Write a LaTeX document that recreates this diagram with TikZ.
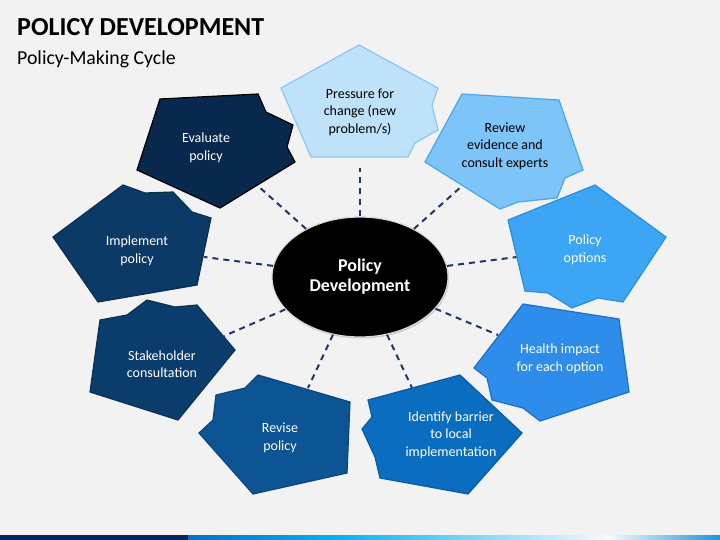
\documentclass[tikz,border=0pt]{standalone}
\usepackage{fontspec}
\setmainfont{Carlito}
\usetikzlibrary{shapes.geometric, shadows, positioning}

\definecolor{bgc}{HTML}{F2F2F2}
\definecolor{navy}{HTML}{1F3864}
\definecolor{barDark}{HTML}{0B2263}
\definecolor{barA}{HTML}{0A6EC2}
\definecolor{barB}{HTML}{00B0F0}
\definecolor{barC}{HTML}{F5FAFE}
\definecolor{barD}{HTML}{1E93DA}
\definecolor{fillA}{HTML}{BEE2FA}\definecolor{lineA}{HTML}{8AC8F2}
\definecolor{fillB}{HTML}{7DC4F8}\definecolor{lineB}{HTML}{49A6EB}
\definecolor{fillC}{HTML}{3CA6F5}\definecolor{lineC}{HTML}{2A8EE0}
\definecolor{fillD}{HTML}{2E8CEB}\definecolor{lineD}{HTML}{1A70C8}
\definecolor{fillE}{HTML}{0B6DBF}\definecolor{lineE}{HTML}{075BA5}
\definecolor{fillF}{HTML}{0C5494}\definecolor{lineF}{HTML}{0A477F}
\definecolor{fillG}{HTML}{0A3D6C}\definecolor{lineG}{HTML}{083258}
\definecolor{fillH}{HTML}{0B3A66}\definecolor{lineH}{HTML}{08304F}
\definecolor{fillI}{HTML}{08284E}\definecolor{lineI}{HTML}{000000}

\pgfdeclarehorizontalshading{barshade}{100bp}{color(0bp)=(barA); color(25bp)=(barA);
  color(38.5bp)=(barB); color(64.5bp)=(barC); color(75bp)=(barD); color(100bp)=(barD)}

\begin{document}
\begin{tikzpicture}[x=1pt, y=-1pt,
    stage/.style={line width=1.2pt, line join=miter},
    lbl/.style={align=center, inner sep=0pt, font=\fontsize{14}{17.5}\selectfont, text=white},
    hub/.style={ellipse, fill=black, draw=white!85!black, line width=1.2pt,
                minimum width=176pt, minimum height=120pt, align=center, text=white,
                font=\fontsize{18}{20}\selectfont\bfseries,
                drop shadow={opacity=0.35, shadow xshift=1pt, shadow yshift=-1.5pt}},
    link/.style={draw=navy, line width=2pt, dash pattern=on 6pt off 5pt}
]
    \fill[bgc] (0,0) rectangle (720,540);
    \useasboundingbox (0,0) rectangle (720,540);

    \node[anchor=base west, inner sep=0pt, font=\fontsize{26}{30}\selectfont\bfseries] (title) at (17,36) {POLICY DEVELOPMENT};
    \node[anchor=base west, inner sep=0pt, font=\fontsize{19.8}{22}\selectfont] (subtitle) at (17,65) {Policy-Making Cycle};

    \node[hub] (hub) at (360,277) {Policy\\Development};

    \coordinate (e1) at (360,168);
    \coordinate (e2) at (462,186);
    \coordinate (e3) at (517,257);
    \coordinate (e4) at (498,335);
    \coordinate (e5) at (413,390);
    \coordinate (e6) at (308,388);
    \coordinate (e7) at (224,336);
    \coordinate (e8) at (204,257);
    \coordinate (e9) at (258,186);

    \draw[link] (hub) -- (e1);
    \draw[link] (hub) -- (e2);
    \draw[link] (hub) -- (e3);
    \draw[link] (hub) -- (e4);
    \draw[link] (hub) -- (e5);
    \draw[link] (hub) -- (e6);
    \draw[link] (hub) -- (e7);
    \draw[link] (hub) -- (e8);
    \draw[link] (hub) -- (e9);

    \draw[stage, fill=fillA, draw=lineA] (359,45) -- (438,88) -- (432,105) -- (438,130) -- (415,143) -- (408,157) -- (311,157) -- (281,88) -- cycle;
    \draw[stage, fill=fillB, draw=lineB] (462,94) -- (559,100) -- (583,170) -- (565,178) -- (557,198) -- (518,202) -- (500,209) -- (425,162) -- cycle;
    \draw[stage, fill=fillC, draw=lineC] (595,185) -- (666,237) -- (623,302) -- (598,298) -- (572,308) -- (548,293) -- (525,291) -- (508,220) -- cycle;
    \draw[stage, fill=fillD, draw=lineD] (523,304) -- (619,319) -- (629,392) -- (540,421) -- (523,408) -- (492,400) -- (487,378) -- (474,368) -- cycle;
    \draw[stage, fill=fillE, draw=lineE] (460,375) -- (522,433) -- (468,494) -- (380,478) -- (375,457) -- (362,429) -- (372,417) -- (368,400) -- cycle;
    \draw[stage, fill=fillF, draw=lineF] (258,375) -- (350,402) -- (347,473) -- (253,494) -- (199,433) -- (213,420) -- (216,395) -- (245,388) -- cycle;
    \draw[stage, fill=fillG, draw=lineG] (147,300) -- (175,307) -- (197,305) -- (235,350) -- (178,420) -- (90,392) -- (100,320) -- (127,315) -- cycle;
    \draw[stage, fill=fillH, draw=lineH] (123,185) -- (145,193) -- (173,192) -- (192,212) -- (211,218) -- (197,285) -- (98,302) -- (53,237) -- cycle;
    \draw[stage, fill=fillI, draw=lineI] (160,99) -- (258,94) -- (266,112) -- (293,125) -- (287,147) -- (295,162) -- (220,208) -- (137,170) -- cycle;

    \node[lbl, text=black] (pressure) at (360,112) {Pressure for\\change (new\\problem/s)};
    \node[lbl, text=black] (review) at (505,146) {Review\\evidence and\\consult experts};
    \node[lbl] (options) at (585,250) {Policy\\options};
    \node[lbl] (health) at (560,359) {Health impact\\for each option};
    \node[lbl] (barrier) at (451,435) {Identify barrier\\to local\\implementation};
    \node[lbl] (revise) at (280,438) {Revise\\policy};
    \node[lbl] (stake) at (162,364) {Stakeholder\\consultation};
    \node[lbl] (implement) at (137,251) {Implement\\policy};
    \node[lbl] (evaluate) at (206,148) {Evaluate\\policy};

    \fill[barDark] (0,535) rectangle (188,540);
    \shade[shading=barshade] (188,535) rectangle (720,540);
\end{tikzpicture}
\end{document}
